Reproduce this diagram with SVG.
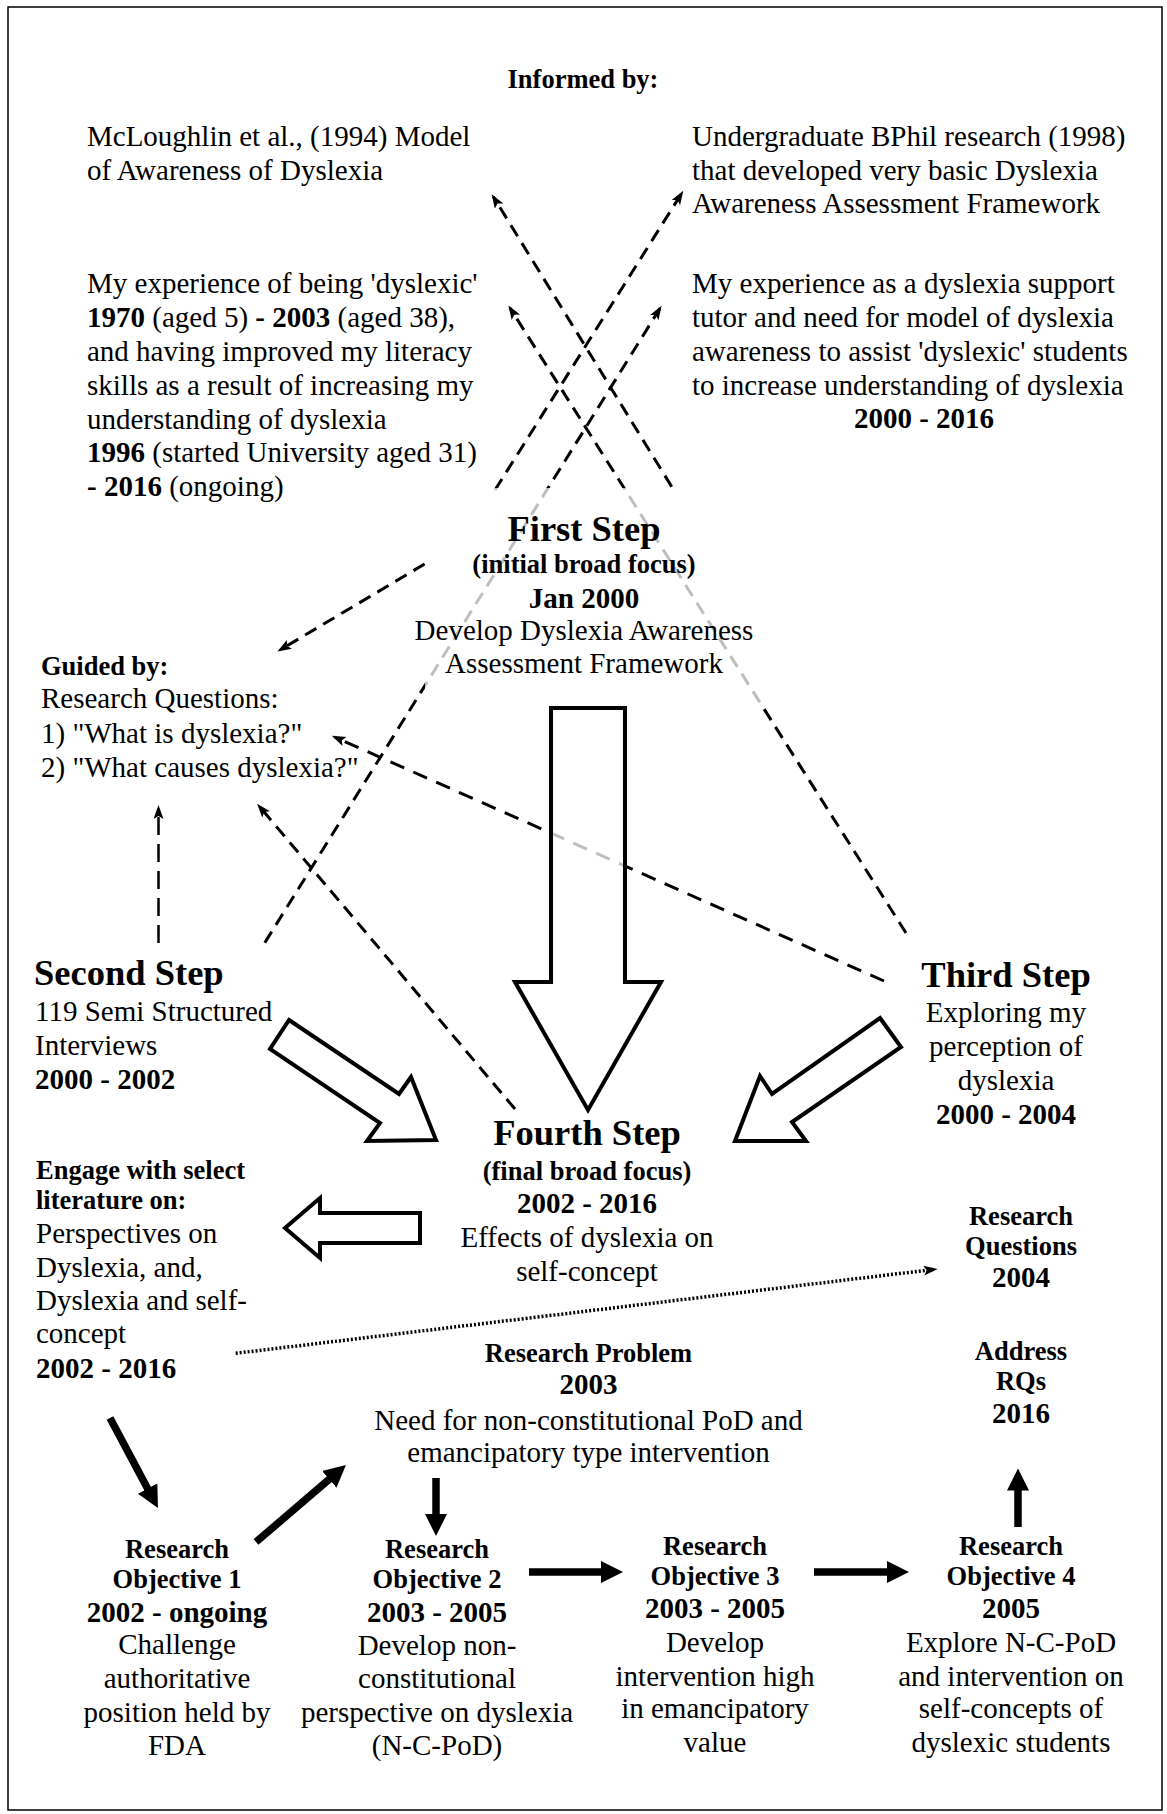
<svg xmlns="http://www.w3.org/2000/svg" width="1167" height="1814" viewBox="0 0 1167 1814">
  <style>
    text { font-family: "Liberation Serif", "Times New Roman", serif; font-size: 29px; fill: #000; }
    .b { font-weight: bold; }
    .lb { font-weight: bold; font-size: 26.5px; }
    .st { font-weight: bold; font-size: 36.5px; }
    .c { text-anchor: middle; }
    .dash { fill: none; stroke: #000; stroke-width: 3; stroke-dasharray: 13 8; marker-end: url(#head); }
    .dash-long { stroke-dasharray: 18 9; stroke-width: 2.5; }
    .dash-mid { stroke-dasharray: 15 10; }
    .dot { fill: none; stroke: #000; stroke-width: 3.5; stroke-dasharray: 2 2; marker-end: url(#head); }
    .bold-arrow { fill: none; stroke: #000; stroke-width: 7.5; marker-end: url(#bighead); }
    .block { fill: #fff; fill-opacity: 0.75; stroke: #000; stroke-width: 4; stroke-linejoin: miter; }
    .veil { fill: #fff; fill-opacity: 0.75; stroke: none; }
  </style>
  <defs>
    <marker id="head" markerUnits="userSpaceOnUse" markerWidth="16" markerHeight="12" refX="11" refY="5" orient="auto">
      <path d="M0,0 L14,5 L0,10 L3,5 z" fill="#000"/>
    </marker>
    <marker id="bighead" markerUnits="userSpaceOnUse" markerWidth="24" markerHeight="24" refX="14" refY="11" orient="auto">
      <path d="M0,0 L22,11 L0,22 z" fill="#000"/>
    </marker>
  </defs>

  <!-- page frame -->
  <rect x="8" y="7" width="1154" height="1803" fill="#fff" stroke="#000" stroke-width="1.5"/>

  <!-- connectors -->
  <g id="connectors">
    <line class="dash" x1="671.7" y1="486.7" x2="493.3" y2="196.7"/>
    <line class="dash" x1="495" y1="490" x2="681.7" y2="193.3"/>
    <line class="dash" x1="906" y1="933" x2="510" y2="308"/>
    <line class="dash" x1="264.8" y1="942.7" x2="660" y2="308.3"/>
    <line class="dash" x1="424.6" y1="564" x2="280" y2="650"/>
    <line class="dash dash-long" x1="158.5" y1="943" x2="158.5" y2="808"/>
    <line class="dash" x1="515" y1="1109" x2="259" y2="806"/>
    <line class="dash dash-mid" x1="884" y1="981" x2="334.5" y2="737"/>
    <line class="dot" x1="235.7" y1="1353.3" x2="934.7" y2="1269.3"/>

    <line class="bold-arrow" x1="110" y1="1418" x2="154.2" y2="1500.9"/>
    <line class="bold-arrow" x1="256" y1="1542" x2="339.9" y2="1470.2"/>
    <line class="bold-arrow" x1="436" y1="1478" x2="436" y2="1528"/>
    <line class="bold-arrow" x1="529" y1="1572" x2="615" y2="1572"/>
    <line class="bold-arrow" x1="814" y1="1572" x2="901" y2="1572"/>
    <line class="bold-arrow" x1="1018" y1="1527" x2="1018" y2="1476.5"/>

    <!-- outlined block arrows into the Fourth Step and out to the literature -->
    <path id="arrow-first-fourth" class="block" d="M551,708 L625,708 L625,982 L661,982 L588,1110 L515,982 L551,982 Z"/>
    <path id="arrow-second-fourth" class="block" d="M289,1020 L399,1094 L411,1077 L436,1140 L367,1141 L380,1123 L270,1049 Z"/>
    <path id="arrow-third-fourth" class="block" d="M880,1018 L901,1047 L792,1122 L806,1141 L735,1141 L760,1076 L772,1094 Z"/>
    <path id="arrow-fourth-literature" class="block" d="M420,1213 L420,1243 L320,1243 L320,1258 L285,1228 L320,1198 L320,1213 Z"/>
  </g>

  <g id="informed-by">
    <text class="lb c" x="583" y="88">Informed by:</text>
  </g>

  <g id="mcloughlin">
    <text x="87" y="146">McLoughlin et al., (1994) Model</text>
    <text x="87" y="180">of Awareness of Dyslexia</text>
  </g>

  <g id="bphil">
    <text x="692" y="146">Undergraduate BPhil research (1998)</text>
    <text x="692" y="180">that developed very basic Dyslexia</text>
    <text x="692" y="213">Awareness Assessment Framework</text>
  </g>

  <g id="experience-dyslexic">
    <text x="87" y="293">My experience of being 'dyslexic'</text>
    <text x="87" y="327"><tspan class="b">1970</tspan> (aged 5) <tspan class="b">- 2003</tspan> (aged 38),</text>
    <text x="87" y="361">and having improved my literacy</text>
    <text x="87" y="395">skills as a result of increasing my</text>
    <text x="87" y="429">understanding of dyslexia</text>
    <text x="87" y="462"><tspan class="b">1996</tspan> (started University aged 31)</text>
    <text x="87" y="496"><tspan class="b">- 2016</tspan> (ongoing)</text>
  </g>

  <g id="experience-tutor">
    <text x="692" y="293">My experience as a dyslexia support</text>
    <text x="692" y="327">tutor and need for model of dyslexia</text>
    <text x="692" y="361">awareness to assist 'dyslexic' students</text>
    <text x="692" y="395">to increase understanding of dyslexia</text>
    <text class="b c" x="924" y="428">2000 - 2016</text>
  </g>

  <g id="first-step">
    <rect class="veil" x="425" y="488" width="345" height="217"/>
    <text class="st c" x="584" y="541">First Step</text>
    <text class="lb c" x="584" y="573">(initial broad focus)</text>
    <text class="b c" x="584" y="608">Jan 2000</text>
    <text class="c" x="584" y="640">Develop Dyslexia Awareness</text>
    <text class="c" x="584" y="673">Assessment Framework</text>
  </g>

  <g id="guided-by">
    <text class="lb" x="41" y="675">Guided by:</text>
    <text x="41" y="708">Research Questions:</text>
    <text x="41" y="743">1) "What is dyslexia?"</text>
    <text x="41" y="777">2) "What causes dyslexia?"</text>
  </g>

  <g id="second-step">
    <text class="st" x="34" y="985">Second Step</text>
    <text x="35" y="1021">119 Semi Structured</text>
    <text x="35" y="1055">Interviews</text>
    <text class="b" x="35" y="1089">2000 - 2002</text>
  </g>

  <g id="third-step">
    <text class="st c" x="1006" y="987">Third Step</text>
    <text class="c" x="1006" y="1021.5">Exploring my</text>
    <text class="c" x="1006" y="1056">perception of</text>
    <text class="c" x="1006" y="1090">dyslexia</text>
    <text class="b c" x="1006" y="1124">2000 - 2004</text>
  </g>

  <g id="fourth-step">
    <text class="st c" x="587" y="1145">Fourth Step</text>
    <text class="lb c" x="587" y="1180">(final broad focus)</text>
    <text class="b c" x="587" y="1213">2002 - 2016</text>
    <text class="c" x="587" y="1247">Effects of dyslexia on</text>
    <text class="c" x="587" y="1281">self-concept</text>
  </g>

  <g id="literature">
    <text class="lb" x="36" y="1179">Engage with select</text>
    <text class="lb" x="36" y="1209">literature on:</text>
    <text x="36" y="1243">Perspectives on</text>
    <text x="36" y="1277">Dyslexia, and,</text>
    <text x="36" y="1310">Dyslexia and self-</text>
    <text x="36" y="1343">concept</text>
    <text class="b" x="36" y="1378">2002 - 2016</text>
  </g>

  <g id="research-questions">
    <text class="lb c" x="1021" y="1225">Research</text>
    <text class="lb c" x="1021" y="1255">Questions</text>
    <text class="b c" x="1021" y="1287">2004</text>
  </g>

  <g id="address-rqs">
    <text class="lb c" x="1021" y="1360">Address</text>
    <text class="lb c" x="1021" y="1390">RQs</text>
    <text class="b c" x="1021" y="1423">2016</text>
  </g>

  <g id="research-problem">
    <text class="lb c" x="588.5" y="1362">Research Problem</text>
    <text class="b c" x="588.5" y="1394">2003</text>
    <text class="c" x="588.5" y="1430">Need for non-constitutional PoD and</text>
    <text class="c" x="588.5" y="1462">emancipatory type intervention</text>
  </g>

  <g id="objective-1">
    <text class="lb c" x="177" y="1558">Research</text>
    <text class="lb c" x="177" y="1588">Objective 1</text>
    <text class="b c" x="177" y="1622">2002 - ongoing</text>
    <text class="c" x="177" y="1654">Challenge</text>
    <text class="c" x="177" y="1688">authoritative</text>
    <text class="c" x="177" y="1722">position held by</text>
    <text class="c" x="177" y="1755">FDA</text>
  </g>

  <g id="objective-2">
    <text class="lb c" x="437" y="1558">Research</text>
    <text class="lb c" x="437" y="1588">Objective 2</text>
    <text class="b c" x="437" y="1622">2003 - 2005</text>
    <text class="c" x="437" y="1655">Develop non-</text>
    <text class="c" x="437" y="1688">constitutional</text>
    <text class="c" x="437" y="1722">perspective on dyslexia</text>
    <text class="c" x="437" y="1755">(N-C-PoD)</text>
  </g>

  <g id="objective-3">
    <text class="lb c" x="715" y="1555">Research</text>
    <text class="lb c" x="715" y="1585">Objective 3</text>
    <text class="b c" x="715" y="1618">2003 - 2005</text>
    <text class="c" x="715" y="1652">Develop</text>
    <text class="c" x="715" y="1686">intervention high</text>
    <text class="c" x="715" y="1718">in emancipatory</text>
    <text class="c" x="715" y="1752">value</text>
  </g>

  <g id="objective-4">
    <text class="lb c" x="1011" y="1555">Research</text>
    <text class="lb c" x="1011" y="1585">Objective 4</text>
    <text class="b c" x="1011" y="1618">2005</text>
    <text class="c" x="1011" y="1652">Explore N-C-PoD</text>
    <text class="c" x="1011" y="1686">and intervention on</text>
    <text class="c" x="1011" y="1718">self-concepts of</text>
    <text class="c" x="1011" y="1752">dyslexic students</text>
  </g>
</svg>
